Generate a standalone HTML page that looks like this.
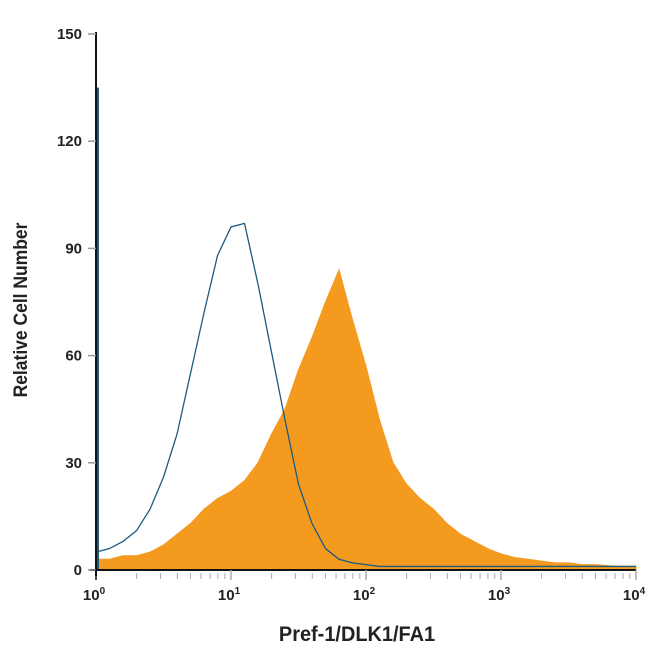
<!DOCTYPE html>
<html><head><meta charset="utf-8"><style>
html,body{margin:0;padding:0;background:#fff;}
svg{display:block;font-family:"Liberation Sans",Arial,sans-serif;}
</style></head><body>
<svg id="chart" width="650" height="650" viewBox="0 0 650 650">
<g id="plot"></g>
<text transform="translate(27,310) rotate(-90) scale(0.92,1)" text-anchor="middle" font-size="19" font-weight="bold" fill="#222">Relative Cell Number</text>
<text transform="translate(357,641) scale(0.95,1)" text-anchor="middle" font-size="21" font-weight="bold" fill="#222">Pref-1/DLK1/FA1</text>
</svg>
<script>
const logPositions = [0,0.1,0.2,0.3,0.4,0.5,0.6,0.7,0.8,0.9,1.0,1.1,1.2,1.3,1.4,1.5,1.6,1.7,1.8,1.9,2.0,2.1,2.2,2.3,2.4,2.5,2.6,2.7,2.8,2.9,3.0,3.1,3.2,3.3,3.4,3.5,3.6,3.7,3.8,3.9,4.0];
const controlValues = [5,6,8,11,17,26,38,55,72,88,96,97,80,61,42,24,13,6,3,2,1.5,1,1,1,1,1,1,1,1,1,1,1,1,1,1,1,1,1,1,1,1];
const stainedValues = [3,3,4,4,5,7,10,13,17,20,22,25,30,38,45,56,65,75,84,70,57,42,30,24,20,17,13,10,8,6,4.5,3.5,3,2.5,2,2,1.5,1.5,1.2,1,1];
const controlSpike = 135;
const yTicks = [0,30,60,90,120,150];
const xTicks = [0,1,2,3,4];

const X0=96, X1=636, Y0=570, Y1=34;
const xs = v => X0 + (v/4)*(X1-X0);
const ys = v => Y0 - (v/150)*(Y0-Y1);
const NS="http://www.w3.org/2000/svg";
const plot=document.getElementById('plot');
function mk(t,a){const e=document.createElementNS(NS,t);for(const k in a)e.setAttribute(k,a[k]);plot.appendChild(e);return e;}

let d=`M${xs(logPositions[0])},${ys(0)}`;
for(let i=0;i<logPositions.length;i++) d+=` L${xs(logPositions[i])},${ys(stainedValues[i])}`;
d+=` L${xs(4)},${ys(0)} Z`;
const area=mk('path',{d:d,fill:'#f39a1f',stroke:'#f39a1f','stroke-width':1});



let p=`M${xs(0)},${ys(controlSpike)} L${xs(0)},${ys(controlValues[0])}`;
for(let i=0;i<logPositions.length;i++) p+=` L${xs(logPositions[i])},${ys(controlValues[i])}`;
const line=mk('path',{d:p,fill:'none',stroke:'#1d5a80','stroke-width':1.3});


const spike=mk('line',{x1:xs(0)+1.5,x2:xs(0)+1.5,y1:ys(0),y2:ys(controlSpike),stroke:'#1d5a80','stroke-width':3});



const ya=mk('line',{x1:X0,x2:X0,y1:Y1-2,y2:Y0+6,stroke:'#111','stroke-width':2});


const xa=mk('line',{x1:X0-6,x2:X1,y1:Y0,y2:Y0,stroke:'#111','stroke-width':2});



yTicks.forEach(t=>{
  const tk=mk('line',{x1:X0-8,x2:X0,y1:ys(t),y2:ys(t),stroke:'#999','stroke-width':1.5});
  
  
  const lb=mk('text',{x:X0-14,y:ys(t)+5,'text-anchor':'end','font-size':15,'font-weight':'bold',fill:'#222'});
  lb.textContent=t;
  
  
});
xTicks.forEach(t=>{
  if(t<4){for(let m=2;m<=9;m++){
    const mx=xs(t+Math.log10(m));
    const mt=mk('line',{x1:mx,x2:mx,y1:Y0+3,y2:Y0+9,stroke:'#aaa','stroke-width':1});
    
    
  }}
  const tk=mk('line',{x1:xs(t),x2:xs(t),y1:Y0,y2:Y0+10,stroke:t===0?'#111':'#aaa','stroke-width':1.5});
  
  
  const lb=mk('text',{x:xs(t)-2,y:Y0+30,'text-anchor':'middle','font-size':15,'font-weight':'bold',fill:'#222'});
  lb.innerHTML='10<tspan font-size="10" dy="-6">'+t+'</tspan>';
  
  
});
</script>
</body></html>
